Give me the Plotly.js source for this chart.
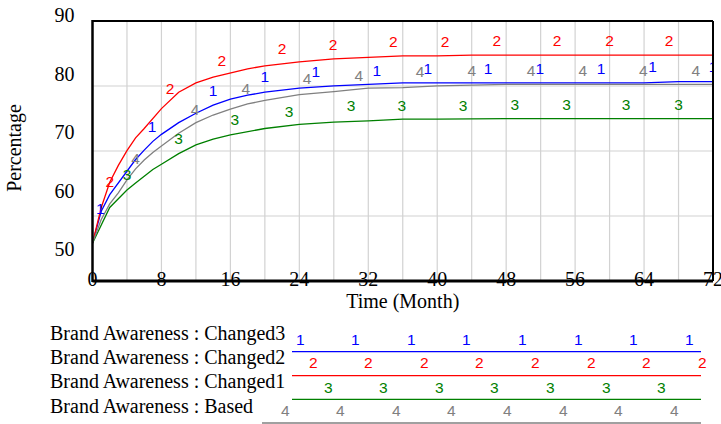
<!DOCTYPE html>
<html>
<head>
<meta charset="utf-8">
<script src="https://cdn.plot.ly/plotly-3.0.1.min.js"></script>
<style>html,body{margin:0;padding:0;background:#fff;}#chart{width:721px;height:424px;}</style>
</head>
<body>
<div id="chart"></div>
<script>
// ---- data ----
const time = [0,1,2,3,4,5,6,7,8,10,12,14,16,18,20,24,28,32,36,40,44,48,52,56,60,64,68,72];
const changed3 = [51.0,56.4,59.3,61.3,63.3,65.3,66.9,68.4,69.6,71.6,73.2,74.6,75.6,76.3,76.8,77.5,77.9,78.2,78.4,78.4,78.4,78.4,78.4,78.4,78.4,78.4,78.6,78.6];
const changed2 = [51.0,57.0,61.4,64.3,66.8,69.0,70.6,72.3,74.0,76.8,78.4,79.4,80.1,80.8,81.3,82.0,82.5,82.8,83.0,83.0,83.15,83.15,83.15,83.15,83.15,83.15,83.15,83.15];
const changed1 = [51.0,54.0,57.1,58.6,60.1,61.3,62.5,63.6,64.5,66.3,67.8,68.8,69.5,70.1,70.6,71.3,71.7,71.9,72.2,72.2,72.3,72.3,72.3,72.3,72.3,72.3,72.3,72.3];
const based    = [51.0,55.0,57.7,59.6,61.8,63.7,65.2,66.5,67.6,69.8,71.6,72.9,73.9,74.8,75.4,76.4,76.9,77.5,77.6,77.9,78.0,78.15,78.15,78.15,78.15,78.15,78.15,78.15];

// number labels placed along each curve
const mark1T = [0.9,6.9,14.0,20.0,25.9,33.0,38.9,45.9,51.9,59.0,65.0,72.0];
const mark1V = [56.7,70.6,76.9,79.2,80.0,80.3,80.6,80.6,80.6,80.6,80.9,80.9];
const mark2T = [2.0,9.0,15.0,22.0,27.9,34.9,40.9,46.9,53.9,60.0,66.9];
const mark2V = [61.2,77.1,81.9,84.0,84.6,85.2,85.2,85.3,85.3,85.3,85.3];
const mark3T = [4.0,10.0,16.5,22.8,30.0,35.9,43.0,49.0,55.0,61.9,68.0];
const mark3V = [62.4,68.6,71.8,73.3,74.2,74.3,74.3,74.4,74.4,74.4,74.4];
const mark4T = [5.0,11.9,17.8,24.9,30.9,38.0,44.0,50.9,56.9,63.9,70.0];
const mark4V = [65.2,73.5,77.2,78.9,79.45,80.0,80.3,80.3,80.3,80.3,80.3];

const xTicks = [0,8,16,24,32,40,48,56,64,72];
const yTicks = [50,60,70,80,90];
const seriesNames = ['Brand Awareness : Changed3','Brand Awareness : Changed2','Brand Awareness : Changed1','Brand Awareness : Based'];
const seriesMarks = ['1','2','3','4'];

// ---- styling / layout ----
const W = 721, H = 424;
const colors = ['#0000ff','#ff0000','#008000','#808080'];
const SERIF = 'Liberation Serif, Times New Roman, serif';
const SANS = 'Liberation Sans, Arial, sans-serif';
const px = x => x / W;
const py = y => 1 - y / H;
const L = 92.5, R = 713, T = 21, B = 281, LABTOP = 15;

const curves = [changed3, changed2, changed1, based];
const marksT = [mark1T, mark2T, mark3T, mark4T];
const marksV = [mark1V, mark2V, mark3V, mark4V];

const traces = [];
curves.forEach((ys, i) => {
  traces.push({x: time, y: ys, type: 'scatter', mode: 'lines', name: seriesNames[i],
    line: {color: colors[i], width: 1.3}, hoverinfo: 'skip', showlegend: false});
});
curves.forEach((ys, i) => {
  traces.push({x: marksT[i], y: marksV[i], type: 'scatter', mode: 'text',
    text: marksT[i].map(() => seriesMarks[i]), textposition: 'middle center',
    textfont: {family: SANS, size: 15.5, color: colors[i]}, hoverinfo: 'skip', showlegend: false});
});

const shapes = [];
// vertical grid every 4 months
for (let t = 4; t < 72; t += 4) {
  shapes.push({type: 'line', xref: 'x', yref: 'paper', x0: t, x1: t, y0: py(B), y1: py(T),
    line: {color: '#d2d2d2', width: 1.2}, layer: 'below'});
}
// horizontal grid: frame divided in 4
for (let k = 1; k < 4; k++) {
  const yy = T + (B - T) * k / 4;
  shapes.push({type: 'line', xref: 'paper', yref: 'paper', x0: px(L), x1: px(R), y0: py(yy), y1: py(yy),
    line: {color: '#d2d2d2', width: 1.2}, layer: 'below'});
}
// frame
shapes.push({type: 'line', xref: 'paper', yref: 'paper', x0: px(L), x1: px(R), y0: py(T), y1: py(T), line: {color: '#000', width: 2}, layer: 'above'});
shapes.push({type: 'line', xref: 'paper', yref: 'paper', x0: px(R), x1: px(R), y0: py(T), y1: py(B), line: {color: '#000', width: 2}, layer: 'above'});
shapes.push({type: 'line', xref: 'paper', yref: 'paper', x0: px(L), x1: px(L), y0: py(T - 1), y1: py(B + 1), line: {color: '#000', width: 2.5}, layer: 'above'});
shapes.push({type: 'line', xref: 'paper', yref: 'paper', x0: px(L), x1: px(R), y0: py(B), y1: py(B), line: {color: '#000', width: 3}, layer: 'above'});

// legend block (Vensim style)
const annotations = [];
const legTextY = [333.3, 357.5, 381.5, 405.5];
const legLineY = [351.7, 375.7, 399.3, 423];
const legLineX0 = [292, 292, 292, 262];
const legMarkY = [339.5, 362.7, 387.3, 410];
const legMarkX0 = [300, 313, 328, 285];
const legMarkN = [8, 8, 7, 8];
seriesNames.forEach((nm, i) => {
  annotations.push({xref: 'paper', yref: 'paper', x: px(48), y: py(legTextY[i]), xanchor: 'left', yanchor: 'middle',
    text: nm, showarrow: false, font: {family: SERIF, size: 20, color: '#000'}});
  shapes.push({type: 'line', xref: 'paper', yref: 'paper', x0: px(legLineX0[i]), x1: px(701), y0: py(legLineY[i]), y1: py(legLineY[i]),
    line: {color: colors[i], width: 1.3}});
  for (let k = 0; k < legMarkN[i]; k++) {
    annotations.push({xref: 'paper', yref: 'paper', x: px(legMarkX0[i] + k * 55.6), y: py(legMarkY[i]),
      xanchor: 'center', yanchor: 'middle', text: seriesMarks[i], showarrow: false,
      font: {family: SANS, size: 15.5, color: colors[i]}});
  }
});

const layout = {
  width: W, height: H,
  margin: {l: 0, r: 0, t: 0, b: 0},
  paper_bgcolor: '#fff', plot_bgcolor: '#fff',
  showlegend: false,
  xaxis: {
    domain: [px(L), px(R)], range: [0, 72], anchor: 'free', position: 0.375,
    tickvals: xTicks, ticktext: xTicks.map(String), ticks: '', showgrid: false, zeroline: false, showline: false,
    ticklabeloverflow: 'allow',
    tickfont: {family: SERIF, size: 20, color: '#000'},
    title: {text: 'Time (Month)', font: {family: SERIF, size: 20, color: '#000'}, standoff: 0}
  },
  yaxis: {
    domain: [py(B), py(LABTOP)], range: [50 - (B - 249) / 5.85, 90],
    tickvals: yTicks, ticktext: yTicks.map(String), ticks: 'outside', ticklen: 13, tickcolor: 'rgba(0,0,0,0)',
    showgrid: false, zeroline: false, showline: false, ticklabeloverflow: 'allow',
    tickfont: {family: SERIF, size: 20, color: '#000'},
    title: {text: 'Percentage', font: {family: SERIF, size: 20, color: '#000'}, standoff: 27}
  },
  shapes: shapes,
  annotations: annotations
};

Plotly.newPlot('chart', traces, layout, {displayModeBar: false, staticPlot: true});
</script>
</body>
</html>
